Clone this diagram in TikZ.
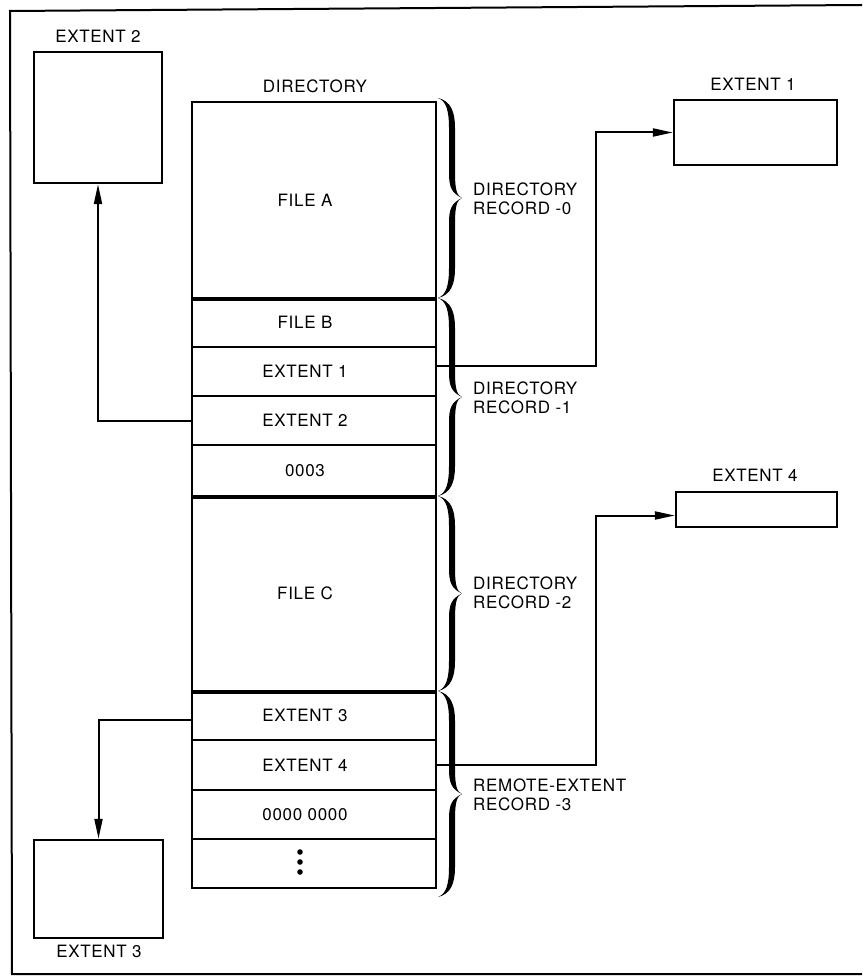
\documentclass[tikz,border=0pt]{standalone}
\usepackage{fontspec}
\setmainfont[LetterSpace=4]{TeX Gyre Heros}
\usetikzlibrary{arrows.meta,calc}
\newcommand{\halfbr}[4]{%
  \fill (#1,#2) .. controls ({#1+13},{#2+#4*3}) and ({#1+17},{#2+#4*14}) .. ({#1+17},{#2+#4*30})
    -- ({#1+17},{#3-#4*25}) .. controls ({#1+17},{#3-#4*8}) and ({#1+19},{#3-#4*2}) .. ({#1+24},#3)
    .. controls ({#1+13},{#3-#4*5}) and ({#1+11},{#3-#4*12}) .. ({#1+11},{#3-#4*25})
    -- ({#1+11},{#2+#4*30}) .. controls ({#1+11},{#2+#4*12}) and ({#1+8},{#2+#4*3}) .. (#1,#2) -- cycle;}
\newcommand{\calbrace}[3]{%
  \pgfmathsetmacro{\bmid}{(#2+#3)/2}%
  \halfbr{#1}{#2}{\bmid}{1}%
  \halfbr{#1}{#3}{\bmid}{-1}}
\begin{document}
\begin{tikzpicture}[x=1pt,y=-1pt,
  txt/.style={font=\fontsize{17}{19}\selectfont, inner sep=0pt},
  row/.style={draw, line width=2.1pt, minimum width=244pt, inner sep=0pt,
    font=\fontsize{17}{19}\selectfont, execute at begin node={\hspace*{-18pt}}},
  extbox/.style={draw, line width=2.3pt, inner sep=0pt},
  conn/.style={line width=2pt},
  arr/.style={conn, -{Triangle[length=20pt,width=8pt]}},
  sep/.style={line width=4.5pt}]
\useasboundingbox (0,0) rectangle (862,976);
% outer border
\draw[line width=2pt] (862,5) -- (10,11) -- (12,974) -- (862,974);
% directory
\node[txt] (dirlab) at (315,86) {DIRECTORY};
\node[row, minimum height=196pt] (r1) at (314,200) {FILE A};
\node[row, minimum height=49pt] (r2) at (314,322.5) {FILE B};
\node[row, minimum height=49pt] (r3) at (314,371.5) {EXTENT 1};
\node[row, minimum height=49pt] (r4) at (314,420.5) {EXTENT 2};
\node[row, minimum height=51pt] (r5) at (314,470.5) {0003};
\node[row, minimum height=195pt] (r6) at (314,593.5) {FILE C};
\node[row, minimum height=49pt] (r7) at (314,715.5) {EXTENT 3};
\node[row, minimum height=50pt] (r8) at (314,765) {EXTENT 4};
\node[row, minimum height=49pt] (r9) at (314,814.5) {0000 0000};
\node[row, minimum height=49pt] (r10) at (314,863.5) {};
\fill (300,852) circle (2.8pt) (300,862) circle (2.8pt) (300,872) circle (2.8pt);
\draw[sep] (r1.south west) -- (r1.south east);
\draw[sep] (r5.south west) -- (r5.south east);
\draw[sep] (r6.south west) -- (r6.south east);
% braces
\calbrace{438}{98}{298}
\calbrace{438}{298}{496}
\calbrace{438}{496}{691}
\calbrace{438}{691}{897}
\node[txt, anchor=west, align=left] (b0) at (473,199) {DIRECTORY\\RECORD -0};
\node[txt, anchor=west, align=left] (b1) at (473,397.5) {DIRECTORY\\RECORD -1};
\node[txt, anchor=west, align=left] (b2) at (473,593) {DIRECTORY\\RECORD -2};
\node[txt, anchor=west, align=left] (b3) at (473,794.5) {REMOTE-EXTENT\\RECORD -3};
% extent boxes
\node[extbox, minimum width=128pt, minimum height=131pt] (ext2) at (98,117.5) {};
\node[txt] (ext2lab) at (98,36) {EXTENT 2};
\node[extbox, minimum width=163pt, minimum height=65pt] (ext1) at (755.5,132.5) {};
\node[txt] (ext1lab) at (753,84) {EXTENT 1};
\node[extbox, minimum width=161pt, minimum height=35pt] (ext4) at (756.5,509.5) {};
\node[txt] (ext4lab) at (755,475) {EXTENT 4};
\node[extbox, minimum width=129pt, minimum height=98pt] (ext3) at (98.5,889) {};
\node[txt] (ext3lab) at (99,951) {EXTENT 3};
% connectors
\draw[arr] (r4.west) -| (ext2.south);
\draw[arr] ($(r3.east)+(0,-6)$) -- ++(159,0) |- (ext1.west);
\draw[arr] (r8.east) -- ++(159,0) |- ($(ext4.west)+(0,6)$);
\draw[arr] ($(r7.west)+(0,4.5)$) -| (ext3.north);
\end{tikzpicture}
\end{document}
